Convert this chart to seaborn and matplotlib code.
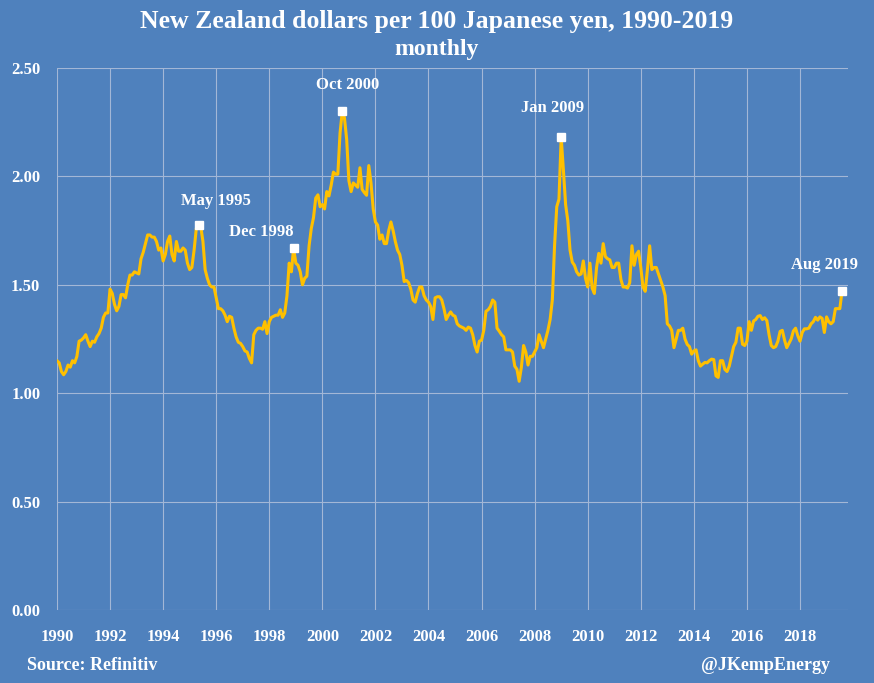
import numpy as np
import pandas as pd
from matplotlib import pyplot as plt
import seaborn as sns

# monthly NZD per 100 JPY, Jan 1990 - Aug 2019
y1990 = [1.15, 1.14, 1.10, 1.085, 1.10, 1.13, 1.12, 1.15, 1.14, 1.17, 1.24, 1.245]
y1991 = [1.255, 1.27, 1.24, 1.215, 1.24, 1.235, 1.26, 1.275, 1.30, 1.35, 1.37, 1.37]
y1992 = [1.48, 1.46, 1.41, 1.38, 1.40, 1.455, 1.455, 1.44, 1.50, 1.545, 1.545, 1.56]
y1993 = [1.555, 1.55, 1.62, 1.65, 1.69, 1.73, 1.73, 1.72, 1.72, 1.70, 1.66, 1.67]
y1994 = [1.61, 1.64, 1.70, 1.725, 1.64, 1.61, 1.70, 1.655, 1.655, 1.67, 1.66, 1.60]
y1995 = [1.57, 1.58, 1.66, 1.76, 1.775, 1.77, 1.70, 1.57, 1.53, 1.50, 1.49, 1.49]
y1996 = [1.44, 1.39, 1.39, 1.38, 1.36, 1.33, 1.355, 1.35, 1.30, 1.26, 1.235, 1.23]
y1997 = [1.215, 1.195, 1.19, 1.16, 1.14, 1.27, 1.29, 1.30, 1.30, 1.295, 1.33, 1.275]
y1998 = [1.33, 1.35, 1.355, 1.36, 1.36, 1.385, 1.35, 1.37, 1.45, 1.60, 1.56, 1.67]
y1999 = [1.60, 1.59, 1.56, 1.50, 1.53, 1.54, 1.68, 1.76, 1.81, 1.90, 1.915, 1.86]
y2000 = [1.87, 1.85, 1.93, 1.91, 1.96, 2.02, 2.01, 2.01, 2.20, 2.30, 2.27, 2.17]
y2001 = [1.98, 1.93, 1.97, 1.96, 1.95, 2.04, 1.94, 1.925, 1.913, 2.05, 1.97, 1.85]
y2002 = [1.79, 1.775, 1.71, 1.73, 1.69, 1.69, 1.75, 1.79, 1.75, 1.70, 1.66, 1.64]
y2003 = [1.59, 1.515, 1.52, 1.51, 1.48, 1.43, 1.42, 1.46, 1.49, 1.49, 1.45, 1.43]
y2004 = [1.42, 1.40, 1.34, 1.44, 1.445, 1.445, 1.43, 1.39, 1.34, 1.36, 1.375, 1.36]
y2005 = [1.355, 1.32, 1.31, 1.305, 1.30, 1.29, 1.305, 1.30, 1.27, 1.22, 1.19, 1.24]
y2006 = [1.245, 1.29, 1.378, 1.385, 1.40, 1.43, 1.42, 1.30, 1.286, 1.27, 1.26, 1.20]
y2007 = [1.20, 1.20, 1.19, 1.125, 1.11, 1.055, 1.12, 1.22, 1.19, 1.13, 1.17, 1.17]
y2008 = [1.19, 1.21, 1.27, 1.24, 1.21, 1.25, 1.29, 1.34, 1.43, 1.68, 1.86, 1.895]
y2009 = [2.18, 2.03, 1.87, 1.795, 1.66, 1.605, 1.59, 1.56, 1.545, 1.55, 1.61, 1.53]
y2010 = [1.49, 1.60, 1.485, 1.46, 1.58, 1.645, 1.60, 1.69, 1.63, 1.62, 1.615, 1.58]
y2011 = [1.58, 1.60, 1.60, 1.525, 1.49, 1.49, 1.485, 1.51, 1.68, 1.59, 1.64, 1.655]
y2012 = [1.58, 1.49, 1.47, 1.57, 1.68, 1.57, 1.58, 1.58, 1.55, 1.52, 1.49, 1.45]
y2013 = [1.32, 1.31, 1.29, 1.21, 1.25, 1.29, 1.29, 1.30, 1.25, 1.225, 1.215, 1.18]
y2014 = [1.195, 1.20, 1.15, 1.125, 1.134, 1.142, 1.14, 1.15, 1.157, 1.155, 1.08, 1.073]
y2015 = [1.15, 1.15, 1.11, 1.10, 1.125, 1.17, 1.215, 1.235, 1.30, 1.30, 1.226, 1.22]
y2016 = [1.24, 1.33, 1.29, 1.333, 1.34, 1.355, 1.358, 1.34, 1.348, 1.335, 1.27, 1.22]
y2017 = [1.21, 1.215, 1.24, 1.285, 1.29, 1.245, 1.21, 1.23, 1.25, 1.287, 1.30, 1.265]
y2018 = [1.24, 1.28, 1.297, 1.297, 1.30, 1.32, 1.33, 1.35, 1.337, 1.352, 1.345, 1.28]
y2019 = [1.352, 1.33, 1.32, 1.33, 1.39, 1.39, 1.39, 1.47]

values = (y1990 + y1991 + y1992 + y1993 + y1994 + y1995 + y1996 + y1997 + y1998
          + y1999 + y2000 + y2001 + y2002 + y2003 + y2004 + y2005 + y2006 + y2007
          + y2008 + y2009 + y2010 + y2011 + y2012 + y2013 + y2014 + y2015 + y2016
          + y2017 + y2018 + y2019)

# labelled points: (label, year, month index 0-11, label offset in pixels)
highlights = [("May 1995", 1995, 4, (17, 24)),
              ("Dec 1998", 1998, 11, (-32, 16)),
              ("Oct 2000", 2000, 9, (5, 26)),
              ("Jan 2009", 2009, 0, (-9, 29)),
              ("Aug 2019", 2019, 7, (-18, 26))]

years = [1990 + i / 12 for i in range(len(values))]
df = pd.DataFrame({"year": years, "rate": values})

BG = "#4F81BD"
LINE = "#FFC000"
GRID = "#A3B7D6"

sns.set_style("white", {"axes.facecolor": BG, "figure.facecolor": BG})
plt.rcParams["font.family"] = ["Liberation Serif", "DejaVu Serif"]
plt.rcParams["font.weight"] = "bold"

fig = plt.figure(figsize=(8.74, 6.83), dpi=100)
ax = fig.add_axes([0.0652, 0.1069, 0.9048, 0.7935])

sns.lineplot(data=df, x="year", y="rate", ax=ax, color=LINE, linewidth=2.2)

for label, yr, m, off in highlights:
    xv = yr + m / 12
    yv = values[(yr - 1990) * 12 + m]
    ax.plot([xv], [yv], marker="s", color="white", markersize=5.5, zorder=5)
    ax.annotate(label, (xv, yv), xytext=off, textcoords="offset pixels",
                ha="center", va="center", color="white", fontsize=12,
                fontweight="bold")

ax.set_xlim(1990, 2019.8)
ax.set_ylim(0, 2.5)
ax.set_xticks(range(1990, 2019, 2))
ax.set_yticks(np.arange(0, 2.51, 0.5))
ax.set_yticklabels([f"{v:.2f}" for v in np.arange(0, 2.51, 0.5)])
ax.grid(True, color=GRID, linewidth=0.8)
ax.set_axisbelow(True)
for s in ax.spines.values():
    s.set_visible(False)
ax.tick_params(axis="both", length=0, colors="white", labelsize=12)
ax.tick_params(axis="x", pad=14)
ax.tick_params(axis="y", pad=12)
for t in ax.get_xticklabels() + ax.get_yticklabels():
    t.set_fontweight("bold")
ax.set_xlabel("")
ax.set_ylabel("")

fig.text(0.5, 0.968, "New Zealand dollars per 100 Japanese yen, 1990-2019",
         ha="center", va="center", color="white", fontsize=18.5, fontweight="bold")
fig.text(0.5, 0.927, "monthly", ha="center", va="center", color="white",
         fontsize=17, fontweight="bold")
fig.text(0.031, 0.026, "Source: Refinitiv", ha="left", va="center",
         color="white", fontsize=13, fontweight="bold")
fig.text(0.95, 0.026, "@JKempEnergy", ha="right", va="center",
         color="white", fontsize=13, fontweight="bold")

fig.savefig("out.png", dpi=100, facecolor=BG)
